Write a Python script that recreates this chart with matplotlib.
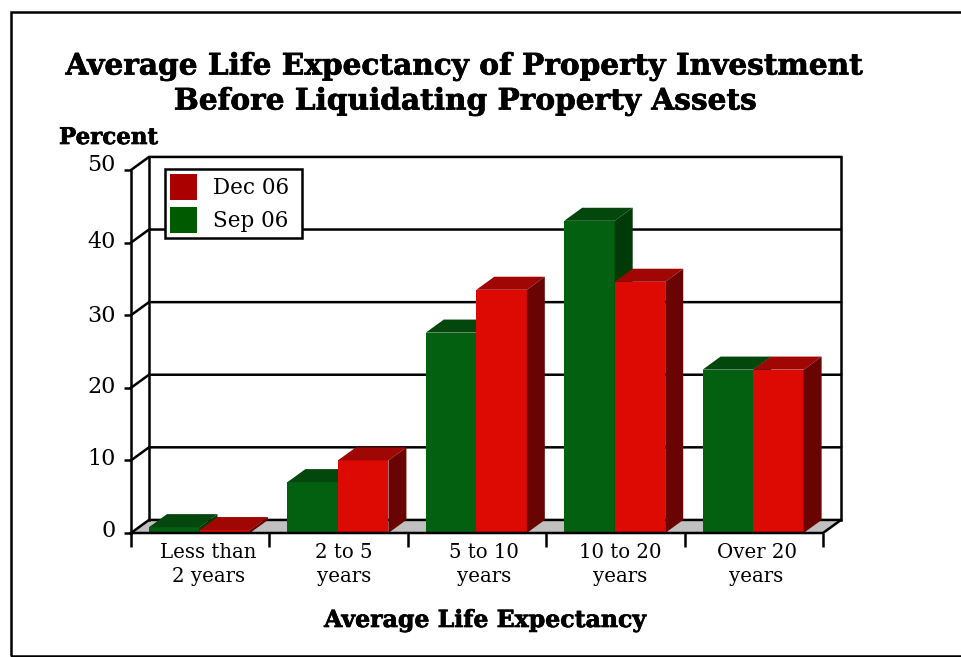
import matplotlib
matplotlib.use("Agg")
import matplotlib.pyplot as plt
import matplotlib.patheffects as pe
from matplotlib.patches import Polygon, Rectangle
from matplotlib.transforms import ScaledTranslation

categories = ["Less than\n2 years", "2 to 5\nyears", "5 to 10\nyears", "10 to 20\nyears", "Over 20\nyears"]
sep_06 = [0.8, 7.0, 27.6, 43.0, 22.5]
dec_06 = [0.4, 10.0, 33.5, 34.6, 22.5]
y_ticks = [0, 10, 20, 30, 40, 50]

W, H = 961, 657
DX, DY = 0.13, 1.8   # depth of the 3d look, in data units
BAR_W = 0.365
label_shift = [0.56, 0.54, 0.55, 0.535, 0.52]   # where the category labels sit in each slot
tick_label_up = [2, 1, 1, -1, 1, 5]   # the y labels are not evenly placed in the original (px)

GREEN = ("#036010", "#04470c", "#003a08")
RED = ("#dd0a04", "#a00603", "#6a0402")

plt.rcParams["font.family"] = "DejaVu Serif"


def fx(px):
    return px / W


def fy(py):
    return 1 - py / H


def draw_bar(ax, x, val, colors):
    front, top, side = colors
    ax.add_patch(Polygon([(x, 0), (x + BAR_W, 0), (x + BAR_W, val), (x, val)], fc=front, ec="none", zorder=3))
    ax.add_patch(Polygon([(x, val), (x + BAR_W, val), (x + BAR_W + DX, val + DY), (x + DX, val + DY)],
                         fc=top, ec="none", zorder=3))
    ax.add_patch(Polygon([(x + BAR_W, 0), (x + BAR_W + DX, DY), (x + BAR_W + DX, val + DY), (x + BAR_W, val)],
                         fc=side, ec="none", zorder=3))


def heavy_text(x, y, s, size, ha):
    # the original lettering is darker than plain bold
    fig.text(fx(x), fy(y), s, ha=ha, va="center", fontsize=size, fontweight="bold",
             path_effects=[pe.withStroke(linewidth=0.5, foreground="black")])


fig = plt.figure(figsize=(W / 100, H / 100), dpi=100)
ax = fig.add_axes([fx(131), fy(533), fx(823) - fx(131), fy(170) - fy(533)])
ax.set_xlim(0, 5)
ax.set_ylim(0, 50)
for s in ax.spines.values():
    s.set_visible(False)

# outer frame runs off the right edge
fig.add_artist(Rectangle((fx(11), fy(656)), 1.2, fy(12) - fy(656), transform=fig.transFigure,
                         fc="none", ec="black", lw=1.8))

# floor and walls
ax.add_patch(Polygon([(0, 0), (5, 0), (5 + DX, DY), (DX, DY)], fc="#c0c0c0", ec="none", zorder=1, clip_on=False))
for v in y_ticks:
    ax.plot([0, DX, 5 + DX], [v, v + DY, v + DY], color="black", lw=1.8, zorder=2, clip_on=False,
            solid_joinstyle="miter")
ax.plot([DX, DX], [DY, 50 + DY], color="black", lw=1.8, zorder=2, clip_on=False)
ax.plot([5 + DX, 5 + DX], [DY, 50 + DY], color="black", lw=1.8, zorder=2, clip_on=False)
ax.plot([0, 0], [0, 50], color="black", lw=1.8, zorder=2, clip_on=False)
ax.plot([0, 5, 5 + DX], [0, 0, DY], color="black", lw=1.8, zorder=4, clip_on=False)

for i in range(len(categories)):
    draw_bar(ax, i + DX, sep_06[i], GREEN)
    draw_bar(ax, i + DX + BAR_W, dec_06[i], RED)

ax.set_yticks(y_ticks)
ax.set_yticklabels([str(v) for v in y_ticks], fontsize=16, va="center")
ax.tick_params(axis="y", length=5, width=1.8, pad=6)
for lab, up in zip(ax.get_yticklabels(), tick_label_up):
    lab.set_transform(lab.get_transform() + ScaledTranslation(0, up / 100, fig.dpi_scale_trans))

ax.set_xticks([i + label_shift[i] for i in range(5)])
ax.set_xticklabels(categories, fontsize=14.2, linespacing=1.35)
ax.tick_params(axis="x", length=0, pad=7)
ax.set_xticks(range(6), minor=True)
ax.tick_params(axis="x", which="minor", length=10, width=1.8)

heavy_text(465, 66, "Average Life Expectancy of Property Investment", 21.3, "center")
heavy_text(466, 101, "Before Liquidating Property Assets", 21.3, "center")
heavy_text(59, 138, "Percent", 16.5, "left")
heavy_text(485, 620, "Average Life Expectancy", 17, "center")

handles = [Rectangle((0, 0), 1, 1, fc="#aa0000", ec="none"), Rectangle((0, 0), 1, 1, fc="#005a00", ec="none")]
leg = ax.legend(handles, ["Dec 06", "Sep 06"], loc="upper left",
                bbox_to_anchor=(34 / 692, 1.0 + 1 / 363 - 0.1, 137 / 692, 0.1), mode="expand",
                fontsize=15.5, fancybox=False, framealpha=1, edgecolor="black", handlelength=1.25,
                handleheight=1.5, handletextpad=0.75, labelspacing=0.3, borderpad=0.23, borderaxespad=0)
leg.get_frame().set_linewidth(1.8)
leg.set_zorder(5)

fig.savefig("out.png", dpi=100)
